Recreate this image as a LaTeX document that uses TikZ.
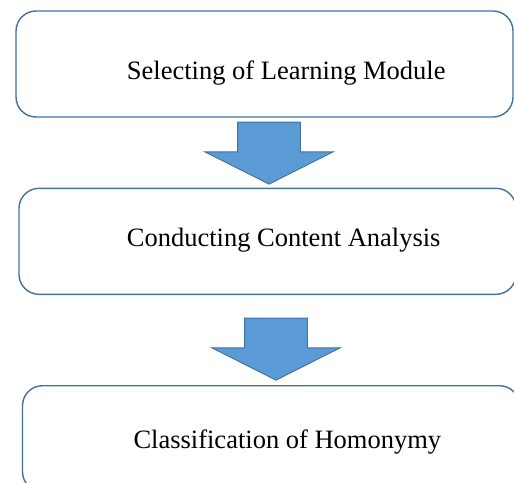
\documentclass[tikz,border=0pt]{standalone}
\usepackage{fontspec}
\setmainfont{Liberation Serif}
\usetikzlibrary{shapes.arrows}
\definecolor{edge}{HTML}{41719C}
\definecolor{flow}{HTML}{5B9BD5}

\begin{document}
\begin{tikzpicture}[x=1pt,y=-1pt,
  stage/.style={draw=edge,line width=1.4pt,rounded corners=20pt,minimum width=497pt,
    minimum height=106pt,inner sep=0pt},
  caption/.style={anchor=base west,inner sep=0pt,font=\fontsize{26.5}{30}\selectfont},
  flowarrow/.style={single arrow,draw=edge,fill=flow,line width=.9pt,rotate=-90,
    minimum height=62pt,minimum width=127pt,single arrow head extend=32.5pt,
    single arrow tip angle=126.5,inner xsep=0pt,inner ysep=31pt,anchor=tail}
]
\clip (0,0) rectangle (514,482);
\node[stage] (module) at (264.5,64) {};
\node[caption] (moduletext) at (126.7,79) {Selecting of Learning Module};
\node[stage] (analysis) at (267.5,241.3) {};
\node[caption] (analysistext) at (126.7,246.7) {Conducting Content Analysis};
\node[stage] (homonymy) at (271,438.7) {};
\node[caption] (homonymytext) at (133.3,448) {Classification of Homonymy};
\node[flowarrow] (step1) at ([xshift=4.5pt,yshift=-4pt]module.south) {};
\node[flowarrow] (step2) at ([xshift=8.5pt,yshift=-22.7pt]analysis.south) {};
\end{tikzpicture}
\end{document}
